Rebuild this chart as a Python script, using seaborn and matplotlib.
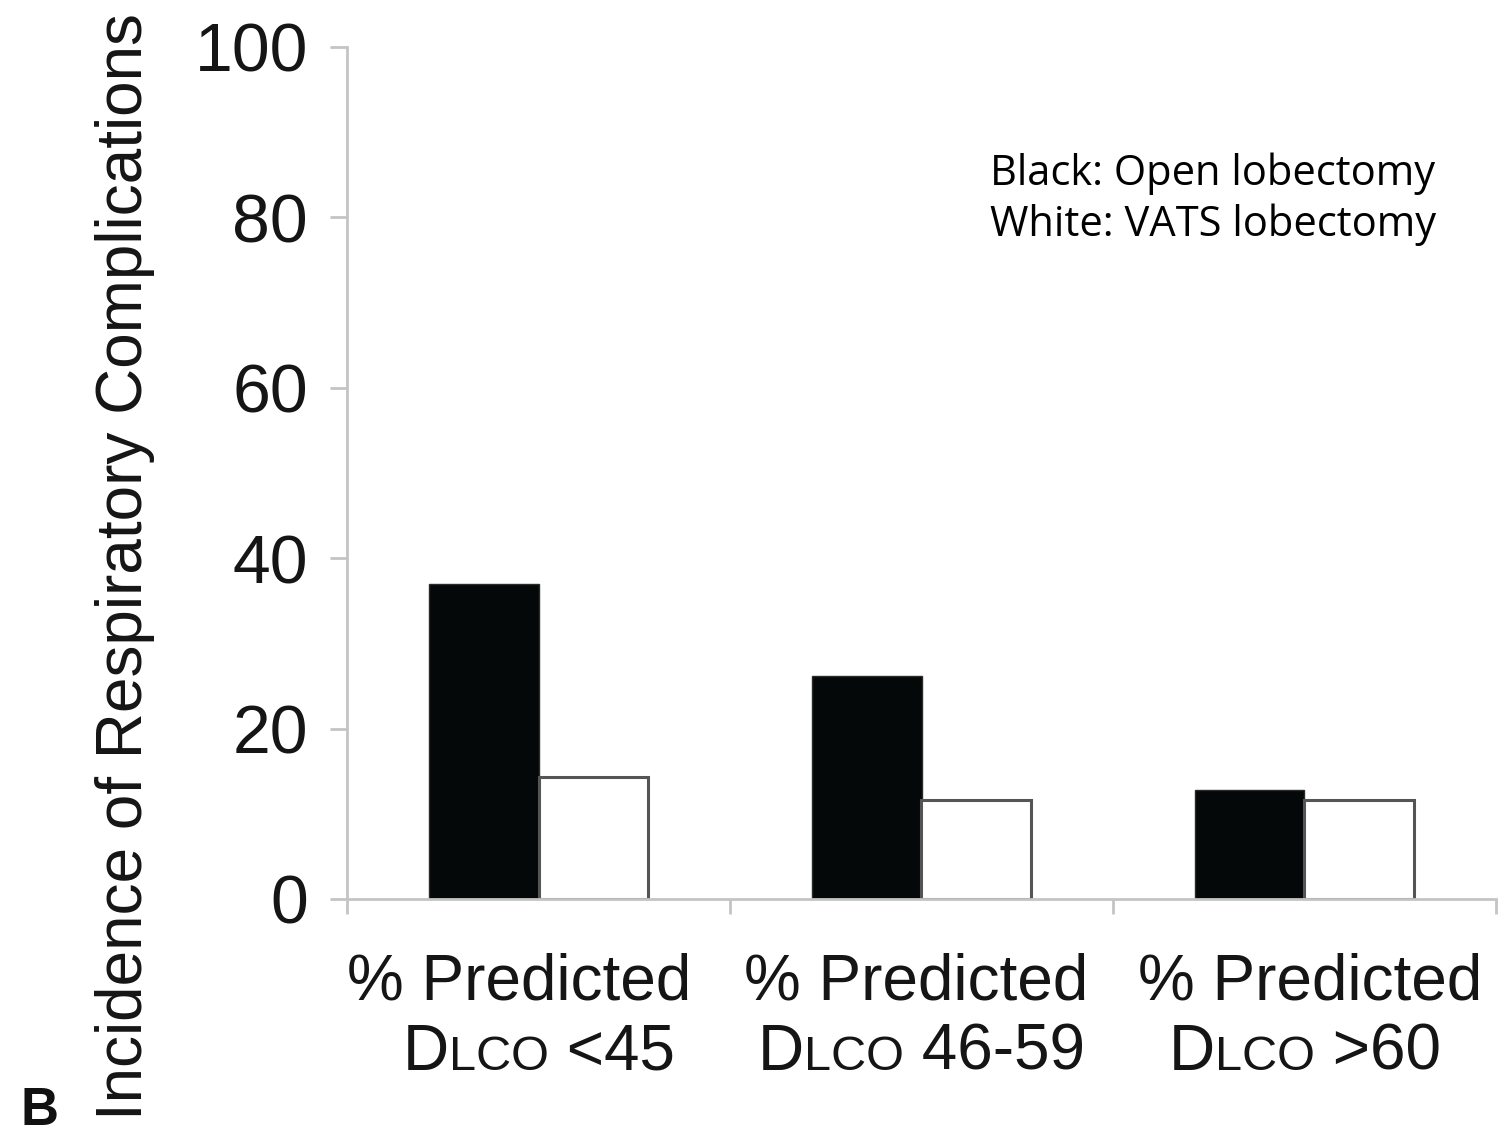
import numpy as np
import matplotlib
matplotlib.use("Agg")
import matplotlib.pyplot as plt
from matplotlib.offsetbox import TextArea, HPacker, AnnotationBbox
import pandas as pd
import seaborn as sns

# dane
groups = ["<45", "46-59", ">60"]
open_lob = [37.0, 26.2, 12.8]
vats_lob = [14.3, 11.6, 11.6]
yticks = [0, 20, 40, 60, 80, 100]

df = pd.DataFrame({
    "group": groups * 2,
    "value": open_lob + vats_lob,
    "approach": ["Open"] * 3 + ["VATS"] * 3,
})

sns.set_style("white")
plt.rcParams["font.family"] = ["Liberation Sans", "DejaVu Sans"]

fig = plt.figure(figsize=(15.01, 11.36), dpi=100)
ax = fig.add_axes([347 / 1501, 1 - 899 / 1136, (1496 - 347) / 1501, (899 - 47) / 1136])

sns.barplot(data=df, x="group", y="value", hue="approach",
            palette={"Open": "#050808", "VATS": "white"},
            width=0.57, errorbar=None, legend=False, ax=ax)

for p in ax.containers[0]:
    p.set_edgecolor("#2a2a2a")
    p.set_linewidth(1.0)
for p in ax.containers[1]:
    p.set_edgecolor("#555555")
    p.set_linewidth(2.2)

ax.set_xlim(-0.5, 2.5)
ax.set_ylim(0, 100)
ax.set_yticks(yticks)
ax.set_yticklabels([str(t) for t in yticks])
ax.set_xlabel("")
ax.set_ylabel("")

spine_col = "#c4c4c4"
for s in ["top", "right"]:
    ax.spines[s].set_visible(False)
for s in ["left", "bottom"]:
    ax.spines[s].set_color(spine_col)
    ax.spines[s].set_linewidth(2.0)

ax.tick_params(axis="y", direction="out", length=12, width=2.0, color=spine_col,
               labelsize=49, pad=16, labelcolor="#151515", left=True)
ax.set_xticks([])
ax.set_xticks([-0.5, 0.5, 1.5, 2.5], minor=True)
ax.tick_params(axis="x", which="minor", direction="out", length=11, width=2.0,
               color=spine_col, bottom=True)
ax.tick_params(axis="x", which="major", length=0, bottom=False)

# etykiety kategorii: "% Predicted" + DLCO w kapitalikach
shift = [-14, -4, 4]  # przesuniecie pierwszej linii w pt
for i, g in enumerate(groups):
    ax.annotate("% Predicted", (i, -101 / 852), xycoords=ax.get_xaxis_transform(),
                xytext=(shift[i], 0), textcoords="offset points",
                ha="center", va="baseline", fontsize=46, color="#151515",
                annotation_clip=False)
    parts = [TextArea("D", textprops=dict(size=46, color="#151515")),
             TextArea("LCO", textprops=dict(size=35, color="#151515")),
             TextArea(" " + g, textprops=dict(size=46, color="#151515"))]
    box = HPacker(children=parts, align="baseline", pad=0, sep=0)
    ab = AnnotationBbox(box, (i, -184 / 852), xycoords=ax.get_xaxis_transform(),
                        box_alignment=(0.5, 0.0), frameon=False,
                        annotation_clip=False)
    ax.add_artist(ab)

fig.text(125 / 1501, 1 - 567 / 1136, "Incidence of Respiratory Complications",
         rotation=90, ha="center", va="center", fontsize=46, color="#151515")

fig.text(20 / 1501, 1 - 1125 / 1136, "B", ha="left", va="baseline",
         fontsize=38, fontweight="bold", color="#111111")

fig.text(990 / 1501, 1 - 185 / 1136, "Black: Open lobectomy", ha="left",
         va="baseline", fontsize=30, family=["Open Sans", "DejaVu Sans"], color="black")
fig.text(990 / 1501, 1 - 236 / 1136, "White: VATS lobectomy", ha="left",
         va="baseline", fontsize=30, family=["Open Sans", "DejaVu Sans"], color="black")

fig.savefig("out.png", dpi=100)
